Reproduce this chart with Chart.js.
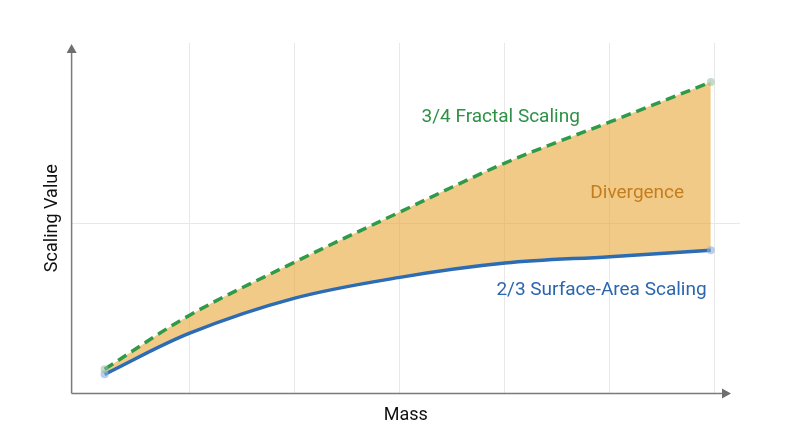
<!DOCTYPE html>
<html>
<head>
<meta charset="utf-8">
<title>Scaling divergence</title>
<script src="https://cdn.jsdelivr.net/npm/chart.js@4"></script>
<style>
    body { margin: 0; background: #ffffff; }
    .wrap { width: 800px; height: 447px; position: relative; }
</style>
</head>
<body>
<div class="wrap"><canvas id="scalingChart"></canvas></div>

<script>
// --- DATA ---
const massValues = [0.19, 1, 2, 3, 4, 5, 5.96];
const fractalValues = [0.71, 2.30, 3.86, 5.33, 6.77, 7.98, 9.15];
const surfaceValues = [0.56, 1.77, 2.80, 3.41, 3.83, 4.02, 4.21];
const massGrid = [1, 2, 3, 4, 5, 6];
const valueGrid = [5];

// curve labels, anchored in data units
const labelTexts = ['3/4 Fractal Scaling', 'Divergence', '2/3 Surface-Area Scaling'];
const labelMass = [3.96, 5.26, 4.92];
const labelValue = [8.12, 5.89, 3.03];
const labelColors = ['#2e9146', '#c47d1e', '#2a66b0'];

const toPoints = ys => ys.map((y, i) => ({ x: massValues[i], y: y }));
const endRadius = massValues.map((m, i) => (i === 0 || i === massValues.length - 1) ? 4 : 0);

// --- PLUGINS ---
const axisArrows = {
    id: 'axisArrows',
    afterDraw(chart) {
        const { ctx, chartArea: a } = chart;
        const tipX = a.right - 9, tipY = a.top + 1;
        ctx.save();
        ctx.strokeStyle = '#7a7a7a';
        ctx.fillStyle = '#6e6e6e';
        ctx.lineWidth = 1.5;
        ctx.beginPath();
        ctx.moveTo(a.left, a.bottom);
        ctx.lineTo(tipX - 8, a.bottom);
        ctx.moveTo(a.left, a.bottom);
        ctx.lineTo(a.left, tipY + 8);
        ctx.stroke();
        ctx.beginPath();
        ctx.moveTo(tipX, a.bottom);
        ctx.lineTo(tipX - 9, a.bottom - 5);
        ctx.lineTo(tipX - 9, a.bottom + 5);
        ctx.closePath();
        ctx.fill();
        ctx.beginPath();
        ctx.moveTo(a.left, tipY);
        ctx.lineTo(a.left - 5, tipY + 9);
        ctx.lineTo(a.left + 5, tipY + 9);
        ctx.closePath();
        ctx.fill();
        ctx.restore();
    }
};

const curveLabels = {
    id: 'curveLabels',
    afterDatasetsDraw(chart) {
        const { ctx, scales } = chart;
        ctx.save();
        ctx.font = '19px Roboto';
        ctx.textAlign = 'center';
        ctx.textBaseline = 'middle';
        labelTexts.forEach((t, i) => {
            ctx.fillStyle = labelColors[i];
            ctx.fillText(t, scales.x.getPixelForValue(labelMass[i]), scales.y.getPixelForValue(labelValue[i]));
        });
        ctx.restore();
    }
};

Chart.defaults.font.family = 'Roboto';

new Chart(document.getElementById('scalingChart'), {
    type: 'line',
    data: {
        datasets: [{
            label: '3/4 Fractal Scaling',
            data: toPoints(fractalValues),
            borderColor: '#2f9a48',
            borderWidth: 3.5,
            borderDash: [10, 6],
            fill: false,
            tension: 0.35,
            pointRadius: endRadius,
            pointBorderWidth: 0,
            pointBackgroundColor: 'rgba(150, 190, 160, 0.55)'
        }, {
            label: '2/3 Surface-Area Scaling',
            data: toPoints(surfaceValues),
            borderColor: '#2b6cb5',
            borderWidth: 3.5,
            backgroundColor: 'rgba(232, 166, 56, 0.6)',
            fill: '-1',
            tension: 0.35,
            pointRadius: endRadius,
            pointBorderWidth: 0,
            pointBackgroundColor: 'rgba(140, 175, 225, 0.6)'
        }]
    },
    options: {
        responsive: true,
        maintainAspectRatio: false,
        animation: false,
        layout: { padding: { left: 39, top: 43, right: 60, bottom: 17 } },
        plugins: { legend: { display: false }, tooltip: { enabled: false } },
        scales: {
            x: {
                type: 'linear',
                min: -0.124,
                max: 6.238,
                afterBuildTicks: s => { s.ticks = massGrid.map(v => ({ value: v })); },
                ticks: { display: false },
                grid: { color: '#e8e8e8', lineWidth: 1, drawTicks: false },
                border: { display: false },
                title: { display: true, text: 'Mass', color: '#111111', font: { size: 18 }, padding: { top: 11, bottom: 4 } }
            },
            y: {
                min: 0,
                max: 10.3,
                afterBuildTicks: s => { s.ticks = valueGrid.map(v => ({ value: v })); },
                ticks: { display: false },
                grid: { color: '#e8e8e8', lineWidth: 1, drawTicks: false },
                border: { display: false },
                title: { display: true, text: 'Scaling Value', color: '#111111', font: { size: 18 }, padding: { top: 3, bottom: 8 } }
            }
        }
    },
    plugins: [axisArrows, curveLabels]
});
</script>
</body>
</html>
